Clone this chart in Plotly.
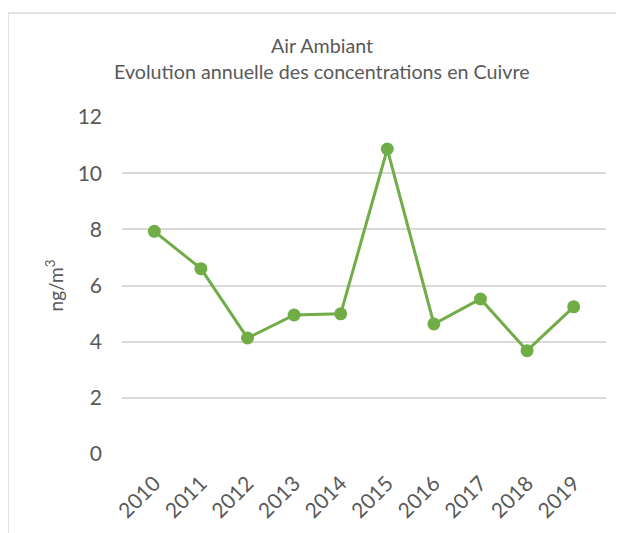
import plotly.graph_objects as go

years = ["2010", "2011", "2012", "2013", "2014", "2015", "2016", "2017", "2018", "2019"]
cuivre = [7.93, 6.6, 4.13, 4.95, 4.99, 10.86, 4.63, 5.52, 3.68, 5.24]
y_ticks = [0, 2, 4, 6, 8, 10, 12]

FONT = "Lato"
GREY = "#595959"

# plot area in figure coords (page has 8px body margin)
L, R, T, B = 114, 598, 109, 446
W, H = R - L, B - T

fig = go.Figure()
fig.add_trace(go.Scatter(
    x=years, y=cuivre, mode="lines+markers",
    line=dict(color="#70AD47", width=3),
    marker=dict(color="#70AD47", size=13),
    showlegend=False,
))

fig.update_layout(
    width=624, height=533,
    margin=dict(l=L, r=624 - R, t=T, b=533 - B, autoexpand=False),
    paper_bgcolor="white", plot_bgcolor="white",
    font=dict(family=FONT, color=GREY),
    xaxis=dict(
        type="category", tickangle=-45, showgrid=False, showline=False,
        ticks="", tickfont=dict(size=21, color=GREY), automargin=False,
        ticklabelstandoff=12,
    ),
    yaxis=dict(
        range=[0, 12], tickvals=y_ticks, showgrid=True, gridcolor="#D9D9D9",
        gridwidth=1.5, zeroline=False, showline=False, ticks="",
        tickfont=dict(size=21, color=GREY), automargin=False,
        ticklabelstandoff=19,
        title=dict(text="ng/m<sup>3</sup>", font=dict(size=19, color=GREY), standoff=8),
    ),
    annotations=[
        dict(text="Air Ambiant", xref="paper", yref="paper", x=(313.5 - L) / W,
             y=(B - 38) / H, xanchor="center", yanchor="middle", showarrow=False,
             font=dict(size=19.7, color=GREY)),
        dict(text="Evolution annuelle des concentrations en Cuivre", xref="paper",
             yref="paper", x=(313.5 - L) / W, y=(B - 64) / H, xanchor="center",
             yanchor="middle", showarrow=False, font=dict(size=19.7, color=GREY)),
    ],
    shapes=[dict(
        type="rect", xref="paper", yref="paper",
        x0=(0 - L) / W, x1=(610 - L) / W,
        y0=(B - 545) / H, y1=(B - 5) / H,
        line=dict(color="#D9D9D9", width=1.5), fillcolor="rgba(0,0,0,0)",
    )],
)

fig.write_html("out.html")
